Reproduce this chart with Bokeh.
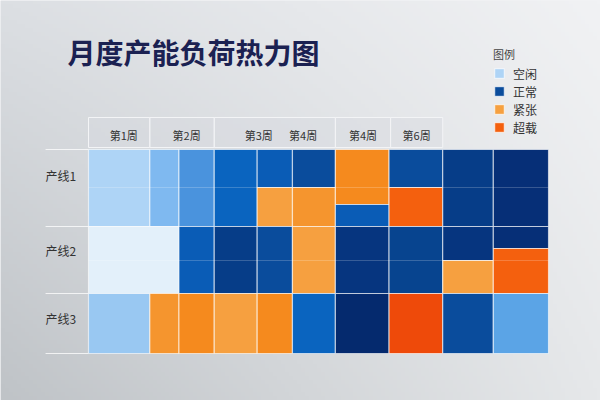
import numpy as np
from bokeh.plotting import figure
from bokeh.models import ColumnDataSource, Range1d, LinearColorMapper, Label, Legend, LegendItem
from bokeh.core.properties import value
from bokeh.embed import file_html
from bokeh.resources import INLINE

FONT = "Noto Sans CJK SC"

# 数据
status_names = ["空闲", "正常", "紧张", "超载"]
status_cell = [0, 6, 5, 11]   # 图例取色所用的单元格

lines = ["产线1", "产线2", "产线3"]
line_label_y = [178, 103, 35]

week_labels = ["第1周", "第2周", "第3周", "第4周", "第4周", "第6周"]
week_pos = [2.3, 6.4, 11.1, 14.0, 17.9, 21.4]
header_edges = [0, 4.0, 8.2, 16.1, 19.7, 23.1]

# 时间段边界(天)
col_edges = [0, 4.0, 5.9, 8.2, 11.0, 13.3, 16.1, 19.6, 23.1, 26.4, 30.0]
# 产线带的边界
band_edges = [0, 60, 127, 204]
sub_edges = [93, 166]

# 单元格: 起始段, 结束段, 下沿, 上沿, 负荷%
cell_c0 = [0, 1, 2, 3, 4, 4, 5, 5, 6, 6, 7, 7, 8, 9,
           0, 2, 3, 4, 5, 6, 7, 8, 8, 9, 9,
           0, 1, 2, 3, 4, 5, 6, 7, 8, 9]
cell_c1 = [1, 2, 3, 4, 5, 5, 6, 6, 7, 7, 8, 8, 9, 10,
           2, 3, 4, 5, 6, 7, 8, 9, 9, 10, 10,
           1, 2, 3, 4, 5, 6, 7, 8, 9, 10]
cell_lo = [127, 127, 127, 127, 166, 127, 166, 127, 149, 127, 166, 127, 127, 127,
           60, 60, 60, 60, 60, 60, 60, 93, 60, 105, 60,
           0, 0, 0, 0, 0, 0, 0, 0, 0, 0]
cell_hi = [204, 204, 204, 204, 204, 166, 204, 166, 204, 149, 204, 166, 204, 204,
           127, 127, 127, 127, 127, 127, 127, 127, 93, 127, 105,
           60, 60, 60, 60, 60, 60, 60, 60, 60, 60]
cell_load = [14, 22, 30, 38, 42, 78, 50, 82, 86, 42, 50, 94, 58, 66,
             6, 42, 58, 50, 78, 61, 54, 62, 78, 66, 94,
             18, 82, 86, 78, 86, 38, 70, 98, 50, 26]

palette = ["#eef6fd", "#e3f0fa", "#cfe5f9", "#aed4f6", "#99c8f2", "#7fb9f0",
           "#5ba4e6", "#4a93dd", "#1a74cc", "#0a64bf", "#0a5cb6", "#0b53a8",
           "#0a4c9c", "#07448f", "#063d88", "#06357f", "#062f77", "#052a6e",
           "#f8a848", "#f6a040", "#f5952e", "#f58a1e", "#f47a14", "#f4600e",
           "#ee4a0a"]
mapper = LinearColorMapper(palette=palette, low=0, high=100)

W, H = 600, 400
x0, x1 = -5.739, 33.39
y0, y1 = -47, 353

p = figure(width=W, height=H, x_range=Range1d(x0, x1), y_range=Range1d(y0, y1),
           output_backend="svg", toolbar_location=None,
           x_axis_location=None, y_axis_location=None, min_border=0)
p.outline_line_color = None
p.grid.visible = False
p.border_fill_color = "#e6e8eb"
p.background_fill_color = "#e6e8eb"

# 背景渐变
ny, nx = 100, 150
u = np.linspace(0, 1, nx)[None, :]
v = np.linspace(0, 1, ny)[:, None]  # 0 = 底部
tl = np.array([0xdc, 0xdf, 0xe3]); tr = np.array([0xf1, 0xf2, 0xf4])
bl = np.array([0xbf, 0xc3, 0xc7]); br = np.array([0xe6, 0xe8, 0xea])
rgb = ((1 - u)[..., None] * ((1 - v)[..., None] * bl + v[..., None] * tl)
       + u[..., None] * ((1 - v)[..., None] * br + v[..., None] * tr))
img = np.empty((ny, nx), dtype=np.uint32)
view = img.view(dtype=np.uint8).reshape((ny, nx, 4))
view[..., :3] = rgb.astype(np.uint8)
view[..., 3] = 255
p.image_rgba(image=[img], x=x0, y=y0, dw=x1 - x0, dh=y1 - y0)

# 表头
hsrc = ColumnDataSource(dict(left=header_edges[:-1], right=header_edges[1:]))
p.quad(left="left", right="right", bottom=206, top=236, source=hsrc,
       fill_color="#d6dadf", fill_alpha=0.45, line_color="#f3f4f6", line_width=1)
p.text(x=week_pos, y=[219] * len(week_pos), text=week_labels,
       text_font=value(FONT), text_font_size="11px", text_color="#333333",
       text_align="center", text_baseline="middle")

# 左侧分隔线
p.segment(x0=[-2.8] * len(band_edges), x1=[0] * len(band_edges),
          y0=band_edges, y1=band_edges, line_color="white", line_alpha=0.75, line_width=1)
p.text(x=[-2.8] * len(lines), y=line_label_y, text=lines,
       text_font=value(FONT), text_font_size="12px", text_color="#333333",
       text_align="left", text_baseline="middle")

# 热力单元格
src = ColumnDataSource(dict(
    left=[col_edges[i] for i in cell_c0],
    right=[col_edges[i] for i in cell_c1],
    bottom=cell_lo, top=cell_hi, load=cell_load))
cells = p.quad(left="left", right="right", bottom="bottom", top="top", source=src,
               fill_color={"field": "load", "transform": mapper},
               line_color="white", line_alpha=0.6, line_width=1.2)
p.segment(x0=[0] * len(sub_edges), x1=[30] * len(sub_edges), y0=sub_edges, y1=sub_edges,
          line_color="white", line_alpha=0.2, line_width=1)

# 标题
p.add_layout(Label(x=-1.37, y=302, text="月度产能负荷热力图", text_font=FONT,
                   text_font_size="28px", text_font_style="bold", text_color="#1b2152",
                   text_baseline="middle"))

# 图例
items = [LegendItem(label=name, renderers=[cells], index=i)
         for name, i in zip(status_names, status_cell)]
legend = Legend(items=items, location=(493, 264), title="图例",
                title_text_font=FONT, title_text_font_size="11px", title_text_color="#444444",
                title_text_font_style="normal", title_standoff=2,
                label_text_font=FONT, label_text_font_size="12px", label_text_color="#333333",
                glyph_width=12, glyph_height=12, label_height=18, label_standoff=8,
                spacing=0, padding=0, margin=0,
                background_fill_alpha=0, border_line_alpha=0)
p.add_layout(legend)

open("out.html", "w").write(file_html(p, INLINE))
